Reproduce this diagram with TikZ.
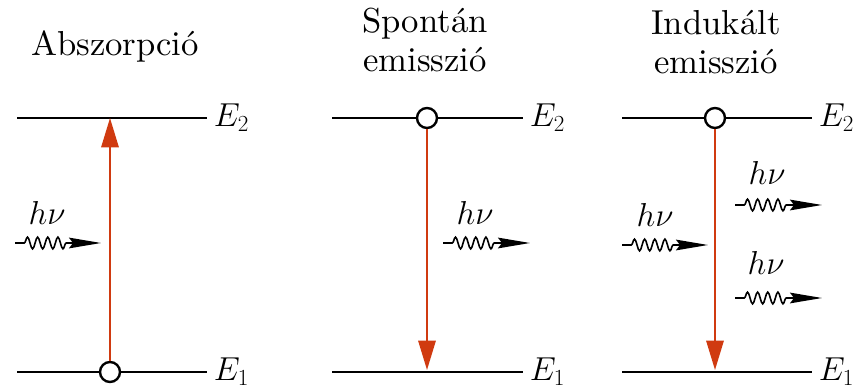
\documentclass[tikz,border=0pt]{standalone}
\usepackage{fontspec}
\setmainfont{lmroman10-regular.otf}[ItalicFont=lmroman10-italic.otf, BoldFont=lmroman10-bold.otf]
\usetikzlibrary{positioning,arrows.meta,decorations.pathmorphing}
\definecolor{transred}{RGB}{208,58,16}
\tikzset{
  level/.style={line width=2.2pt},
  state/.style={circle, draw, fill=white, line width=1.8pt, inner sep=0pt, minimum size=15pt},
  trans/.style={transred, line width=1.5pt, -{Triangle[length=22pt,width=13pt]}},
  photon/.style={line width=1.2pt, decorate, decoration={snake, amplitude=4.4pt, segment length=7.6pt, pre length=7pt, post length=26pt}, -{Stealth[length=24pt,width=8pt,inset=3pt]}},
  title/.style={font=\fontsize{26}{29}\selectfont, anchor=base, inner sep=0pt},
  energy/.style={font=\fontsize{26}{29}\selectfont, anchor=west, inner sep=0pt},
  freq/.style={font=\fontsize{25}{29}\selectfont, anchor=base, inner sep=0pt}
}
\begin{document}
\begin{tikzpicture}[x=0.75pt, y=-0.75pt]
\useasboundingbox (0,0) rectangle (856,391);
\node (t1) [title] at (115,56) {Abszorpció};
\node (t2) [title] at (425,33) {Spontán};
\node (t2b) [title] at (425,72) {emisszió};
\node (t3) [title] at (716,35) {Indukált};
\node (t3b) [title] at (716,74) {emisszió};
\coordinate (a2l) at (17,118);
\coordinate (a2r) at (207,118);
\coordinate (a1l) at (17,372);
\coordinate (a1r) at (207,372);
\coordinate (b2l) at (332,118);
\coordinate (b2r) at (523,118);
\coordinate (b1l) at (332,372);
\coordinate (b1r) at (523,372);
\coordinate (c2l) at (622,118);
\coordinate (c2r) at (812,118);
\coordinate (c1l) at (622,372);
\coordinate (c1r) at (812,372);
\draw[level] (a2l) -- (a2r);
\draw[level] (a1l) -- (a1r);
\draw[level] (b2l) -- (b2r);
\draw[level] (b1l) -- (b1r);
\draw[level] (c2l) -- (c2r);
\draw[level] (c1l) -- (c1r);
\node (ea2) [energy, right=5pt of a2r] {$E_2$};
\node (ea1) [energy, right=5pt of a1r] {$E_1$};
\node (eb2) [energy, right=5pt of b2r] {$E_2$};
\node (eb1) [energy, right=5pt of b1r] {$E_1$};
\node (ec2) [energy, right=5pt of c2r] {$E_2$};
\node (ec1) [energy, right=5pt of c1r] {$E_1$};
\node (sa) [state] at (110,372) {};
\node (sb) [state] at (427,118) {};
\node (sc) [state] at (715,118) {};
\coordinate (ta) at (110,118);
\coordinate (tb) at (427,370);
\coordinate (tc) at (715,370);
\draw[trans] (sa) -- (ta);
\draw[trans] (sb) -- (tb);
\draw[trans] (sc) -- (tc);
\node (fa) [freq] at (47,225) {$h\nu$};
\node (fb) [freq] at (475,225) {$h\nu$};
\node (fc) [freq] at (655,227) {$h\nu$};
\node (fd) [freq] at (767,185) {$h\nu$};
\node (fe) [freq] at (766,275) {$h\nu$};
\coordinate (wa1) at (15,243);
\coordinate (wa2) at (101,243);
\coordinate (wb1) at (443,243);
\coordinate (wb2) at (530,243);
\coordinate (wc1) at (622,245);
\coordinate (wc2) at (708,245);
\coordinate (wd1) at (735,205);
\coordinate (wd2) at (822,205);
\coordinate (we1) at (735,298);
\coordinate (we2) at (822,298);
\draw[photon] (wa1) -- (wa2);
\draw[photon] (wb1) -- (wb2);
\draw[photon] (wc1) -- (wc2);
\draw[photon] (wd1) -- (wd2);
\draw[photon] (we1) -- (we2);
\end{tikzpicture}
\end{document}
